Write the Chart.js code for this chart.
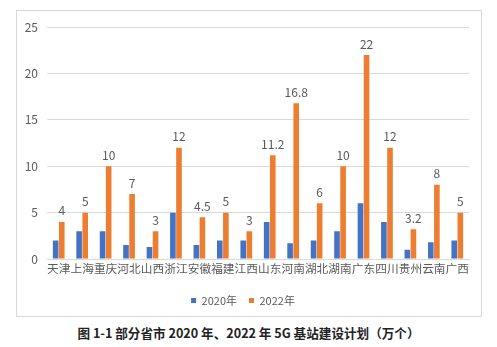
<!DOCTYPE html>
<html>
<head>
<meta charset="utf-8">
<script src="https://cdn.jsdelivr.net/npm/chart.js@4/dist/chart.umd.min.js"></script>
<style>
  html, body { margin: 0; padding: 0; background: #fff; }
  body { width: 497px; height: 347px; position: relative; overflow: hidden; font-family: "Noto Sans CJK SC", sans-serif; }
  #frame { position: absolute; left: 16px; top: 10px; width: 464px; height: 305px; border: 1px solid #d9d9d9; }
  #frame canvas { display: block; }
  #caption { position: absolute; left: 0; width: 497px; top: 323px; text-align: center; font-size: 12.6px; font-weight: bold; color: #222; line-height: 20px; }
</style>
</head>
<body>
<div id="frame"><canvas id="c" width="464" height="305"></canvas></div>
<div id="caption">图 1-1 部分省市 2020 年、2022 年 5G 基站建设计划（万个）</div>
<script>
const categories = ["天津","上海","重庆","河北","山西","浙江","安徽","福建","江西","山东","河南","湖北","湖南","广东","四川","贵州","云南","广西"];
const values2020 = [2, 3, 3, 1.5, 1.3, 5, 1.5, 2, 2, 4, 1.7, 2, 3, 6, 4, 1, 1.8, 2];
const values2022 = [4, 5, 10, 7, 3, 12, 4.5, 5, 3, 11.2, 16.8, 6, 10, 22, 12, 3.2, 8, 5];
const seriesNames = ["2020年", "2022年"];
const yTicks = [0, 5, 10, 15, 20, 25];

const FONT = '"Noto Sans CJK SC", sans-serif';
const GRAY = '#595959';

const labelPlugin = {
  id: 'barLabels',
  afterDatasetsDraw(chart) {
    const ctx = chart.ctx;
    const meta = chart.getDatasetMeta(1);
    ctx.save();
    ctx.font = '12px ' + FONT;
    ctx.fillStyle = GRAY;
    ctx.textAlign = 'center';
    ctx.textBaseline = 'bottom';
    meta.data.forEach((bar, i) => {
      ctx.fillText(String(values2022[i]), bar.x, bar.y - 5);
    });
    ctx.restore();
  }
};

new Chart(document.getElementById('c'), {
  type: 'bar',
  data: {
    labels: categories,
    datasets: [
      { label: seriesNames[0], data: values2020, backgroundColor: '#4472C4', categoryPercentage: 0.52, barPercentage: 0.92 },
      { label: seriesNames[1], data: values2022, backgroundColor: '#ED7D31', categoryPercentage: 0.52, barPercentage: 0.92 }
    ]
  },
  options: {
    responsive: false,
    animation: false,
    layout: { padding: { top: 14, right: 12, left: 0, bottom: 0 } },
    plugins: {
      legend: {
        position: 'bottom',
        labels: {
          usePointStyle: true,
          pointStyle: 'rect',
          boxWidth: 5,
          boxHeight: 5,
          padding: 12,
          color: GRAY,
          font: { family: FONT, size: 11 }
        }
      },
      tooltip: { enabled: false }
    },
    scales: {
      x: {
        grid: { display: false, drawTicks: false },
        border: { display: true, color: '#d9d9d9' },
        ticks: { autoSkip: false, maxRotation: 0, minRotation: 0, color: GRAY, font: { family: FONT, size: 11.7 }, padding: 3 },
        afterFit(scale) { scale.height = 24; }
      },
      y: {
        min: 0, max: 25,
        afterBuildTicks(scale) { scale.ticks = yTicks.map(v => ({ value: v })); },
        grid: { color: '#d9d9d9', drawTicks: false },
        border: { display: false },
        ticks: { color: GRAY, font: { family: FONT, size: 12 }, padding: 9 },
        afterFit(scale) { scale.width = 30; }
      }
    }
  },
  plugins: [labelPlugin]
});
</script>
</body>
</html>
